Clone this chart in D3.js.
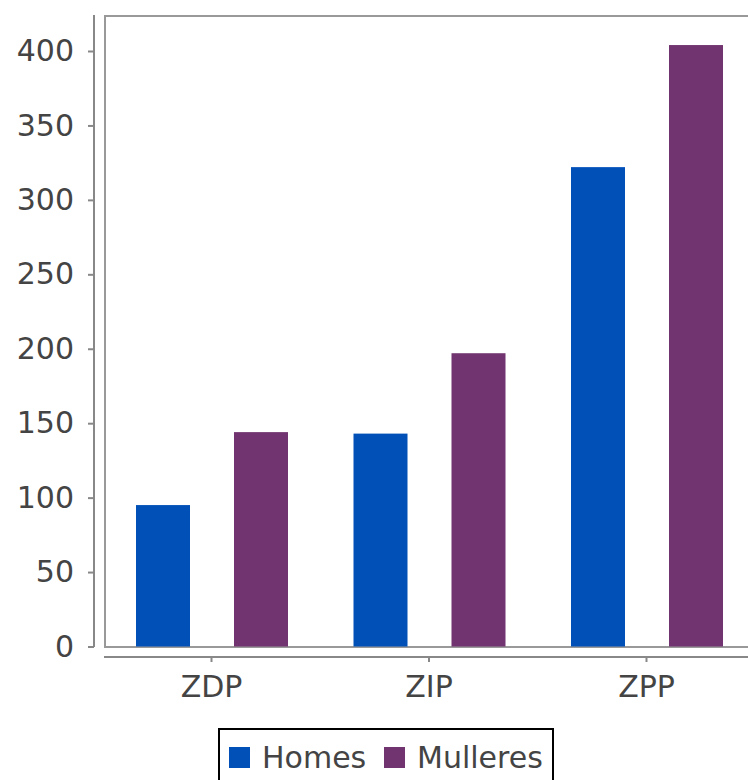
<!DOCTYPE html>
<html>
<head>
<meta charset="utf-8">
<script src="https://cdn.jsdelivr.net/npm/d3@7"></script>
<style>
  html, body { margin: 0; padding: 0; background: #ffffff; overflow: hidden; }
  svg { display: block; }
  text { font-family: "DejaVu Sans", sans-serif; }
</style>
</head>
<body>
<svg id="chart" width="748" height="780"></svg>
<script>
const categories = ["ZDP", "ZIP", "ZPP"];
const seriesNames = ["Homes", "Mulleres"];
const homesValues = [95, 143, 322];
const mulleresValues = [144, 197, 404];
const yTicks = [0, 50, 100, 150, 200, 250, 300, 350, 400];
const seriesColors = ["#0050b8", "#713470"];

const values = [homesValues, mulleresValues];
const data = categories.map((c, i) => ({
  category: c,
  items: seriesNames.map((s, j) => ({ series: s, value: values[j][i] }))
}));

const svg = d3.select("#chart");
const fontSize = 30;
const axisColor = "#888888";
const textColor = "#444444";

const plotLeft = 105, plotTop = 16, plotBottom = 647, plotRight = 760;

const y = d3.scaleLinear().domain([0, 400]).range([646.5, 51]);
const x = d3.scaleBand().domain(categories).range([102.75, 755.25]).padding(0);
const xs = d3.scaleBand().domain(seriesNames).range([33.25, 185.25]).paddingInner(0.449).paddingOuter(0);
const color = d3.scaleOrdinal().domain(seriesNames).range(seriesColors);

// plot border
svg.append("rect")
  .attr("x", plotLeft).attr("y", plotTop)
  .attr("width", plotRight - plotLeft).attr("height", plotBottom - plotTop)
  .attr("fill", "#ffffff").attr("stroke", "#999999").attr("stroke-width", 2);

// bars
const groups = svg.append("g").selectAll("g").data(data).join("g")
  .attr("transform", d => `translate(${x(d.category)},0)`);
groups.selectAll("rect").data(d => d.items).join("rect")
  .attr("x", d => xs(d.series))
  .attr("width", xs.bandwidth())
  .attr("y", d => y(d.value))
  .attr("height", d => y(0) - y(d.value))
  .attr("fill", d => color(d.series));

// y axis
const yAxis = d3.axisLeft(y).tickValues(yTicks).tickSize(6).tickPadding(14).tickSizeOuter(0);
const gy = svg.append("g").attr("transform", "translate(94,0)").call(yAxis);
gy.select(".domain").remove();
gy.append("line").attr("x1", 0).attr("x2", 0).attr("y1", 15).attr("y2", 647)
  .attr("stroke", axisColor).attr("stroke-width", 2);
gy.selectAll(".tick line").attr("stroke", axisColor).attr("stroke-width", 2);
gy.selectAll(".tick text").attr("fill", textColor)
  .style("font-size", fontSize + "px").style("font-family", "DejaVu Sans, sans-serif");

// x axis
const xAxis = d3.axisBottom(x).tickSize(5).tickPadding(14).tickSizeOuter(0);
const gx = svg.append("g").attr("transform", "translate(0,657)").call(xAxis);
gx.select(".domain").remove();
gx.append("line").attr("x1", 104).attr("x2", 760).attr("y1", 0).attr("y2", 0)
  .attr("stroke", axisColor).attr("stroke-width", 2);
gx.selectAll(".tick line").attr("stroke", axisColor).attr("stroke-width", 2);
gx.selectAll(".tick text").attr("fill", textColor)
  .style("font-size", fontSize + "px").style("font-family", "DejaVu Sans, sans-serif");

// legend
const legend = svg.append("g");
legend.append("rect").attr("x", 219).attr("y", 729).attr("width", 334).attr("height", 70)
  .attr("fill", "#ffffff").attr("stroke", "#000000").attr("stroke-width", 2);
const legendX = [229, 384];
const li = legend.selectAll("g.item").data(seriesNames).join("g").attr("class", "item")
  .attr("transform", (d, i) => `translate(${legendX[i]},0)`);
li.append("rect").attr("x", 0).attr("y", 747).attr("width", 21).attr("height", 21)
  .attr("fill", d => color(d));
li.append("text").attr("x", 33).attr("y", 768).text(d => d)
  .attr("fill", textColor).style("font-size", fontSize + "px");
</script>
</body>
</html>
